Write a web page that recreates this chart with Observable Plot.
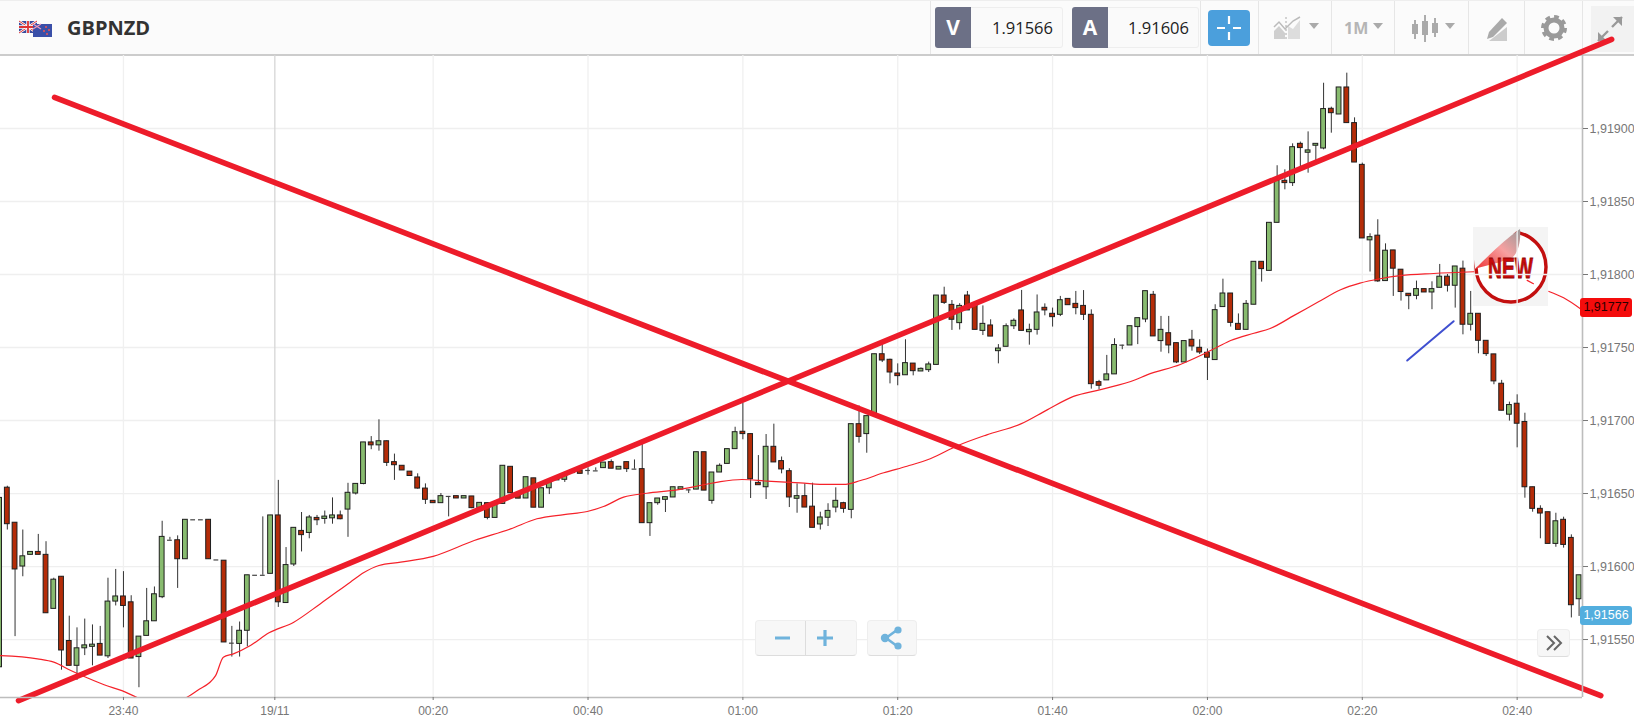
<!DOCTYPE html>
<html>
<head>
<meta charset="utf-8">
<script src="https://cdn.jsdelivr.net/npm/d3@7"></script>
<script src="https://cdn.jsdelivr.net/npm/@observablehq/plot@0.6"></script>
<style>
html,body{margin:0;padding:0;background:#fff;width:1634px;height:728px;overflow:hidden;font-family:"Liberation Sans",Arial,sans-serif}
.a{position:absolute;box-sizing:border-box}
#bar{left:0;top:0;width:1634px;height:56px;background:#fbfbfb;border-top:1px solid #eee;border-bottom:2px solid #ccc;z-index:1}
.sep{top:1px;width:1px;height:53px;background:#e6e6e6;z-index:1}
.sym{left:67px;top:14px;font:700 20px "Open Sans",sans-serif;color:#333;z-index:1}
.k{top:7px;height:41px;width:36px;background:#6c7086;color:#fff;font:700 21px/41px "Open Sans",sans-serif;text-align:center;border-radius:3px 0 0 3px;z-index:1}
.v{top:7px;height:41px;background:#fafafa;border:1px solid #eee;border-left:0;border-radius:0 3px 3px 0;font:400 16.5px/39px "Open Sans",sans-serif;color:#222;text-align:right;padding-right:9px;z-index:1}
.ic{z-index:1;overflow:visible}
.tag{left:1580px;width:52px;height:19px;border-radius:3px;color:#222;font:12.5px/19px "Liberation Sans",sans-serif;text-align:center;z-index:4}
.btn{background:#f7f7f7;border:1px solid #eee;border-bottom:1px solid #ddd;border-radius:4px;z-index:3}
</style>
</head>
<body>
<div id="bar" class="a"></div>
<div class="a sep" style="left:930px"></div><div class="a sep" style="left:1200px"></div>
<div class="a sep" style="left:1258px"></div><div class="a sep" style="left:1331px"></div>
<div class="a sep" style="left:1394px"></div><div class="a sep" style="left:1468px"></div>
<div class="a sep" style="left:1524px"></div><div class="a sep" style="left:1582px"></div>
<div class="a" style="left:1591px;top:6px;width:43px;height:46px;background:#f2f2f2;z-index:1"></div>

<svg class="a ic" style="left:19px;top:20px" width="34" height="18" viewBox="0 0 34 18">
  <rect x="0" y="1" width="18" height="12" fill="#3b4a9c"/>
  <path d="M0 1L18 13M18 1L0 13" stroke="#fff" stroke-width="2.4"/>
  <path d="M0 1L18 13M18 1L0 13" stroke="#d33" stroke-width="1"/>
  <path d="M9 1V13M0 7H18" stroke="#fff" stroke-width="3.4"/>
  <path d="M9 1V13M0 7H18" stroke="#d33" stroke-width="1.8"/>
  <rect x="14" y="4" width="19" height="13" fill="#3a4fa8"/>
  <path d="M14 4L22 9M22 4L14 9" stroke="#e9b" stroke-width="1.2"/>
  <circle cx="27" cy="7" r="1" fill="#e55"/><circle cx="30" cy="10" r="1" fill="#e55"/><circle cx="25" cy="11" r="1" fill="#e55"/><circle cx="28" cy="14" r="1" fill="#e55"/>
</svg>
<div class="a sym">GBPNZD</div>
<div class="a k" style="left:935px">V</div><div class="a v" style="left:971px;width:92px">1.91566</div>
<div class="a k" style="left:1072px">A</div><div class="a v" style="left:1108px;width:91px">1.91606</div>
<div class="a" style="left:1208px;top:10px;width:42px;height:36px;background:#4b9fdc;border-radius:4px;z-index:1"></div>
<svg class="a ic" style="left:1208px;top:10px" width="42" height="36"><path d="M21 6V14M21 22V30M9 18H17M25 18H33" stroke="#fff" stroke-width="2.2"/></svg>
<svg class="a ic" style="left:1274px;top:17px" width="46" height="24" fill="#cfcfcf">
  <path d="M0 22V14L5 9L11 16V22Z"/><path d="M14 22V9L19 12L26 3V22Z" fill="#ddd"/><path d="M0 10L5 5L11 12L19 4L26 0" fill="none" stroke="#bbb" stroke-width="1.5"/><path d="M12 0V24" stroke="#aaa" stroke-dasharray="2 2"/>
  <path d="M35 6H45L40 12Z" fill="#aaa"/>
</svg>
<div class="a" style="left:1344px;top:17px;font:700 16px 'Open Sans',sans-serif;color:#b5b5b5;z-index:1">1M</div>
<svg class="a ic" style="left:1373px;top:23px" width="10" height="8"><path d="M0 0H10L5 6Z" fill="#aaa"/></svg>
<svg class="a ic" style="left:1411px;top:15px" width="46" height="28">
  <path d="M4 5V24M14 0V27M24 3V22" stroke="#999" stroke-width="1.6"/>
  <rect x="1" y="9" width="6" height="10" fill="#aaa"/><rect x="11" y="6" width="6" height="14" fill="#aaa"/><rect x="21" y="8" width="6" height="10" fill="#aaa"/>
  <path d="M34 8H44L39 14Z" fill="#aaa"/>
</svg>
<svg class="a ic" style="left:1485px;top:18px" width="24" height="24">
  <path d="M17 0L22 5L8 19L2 21L4 14Z" fill="#aaa"/><path d="M4 23L22 9V23Z" fill="#ccc"/>
</svg>
<svg class="a ic" style="left:1541px;top:15px" width="26" height="26">
  <circle cx="13" cy="13" r="8" fill="none" stroke="#9a9a9a" stroke-width="5"/>
  <circle cx="13" cy="13" r="11" fill="none" stroke="#9a9a9a" stroke-width="4" stroke-dasharray="4.6 4"/>
</svg>
<svg class="a ic" style="left:1597px;top:16px" width="26" height="26">
  <path d="M15 11L25 1M1 25L11 15" stroke="#999" stroke-width="2.4"/>
  <path d="M16 1H25V10Z M1 16V25H10Z" fill="#999"/>
</svg>

<svg class="a" style="left:1473px;top:227px;z-index:1;overflow:visible" width="75" height="79">
  <defs><linearGradient id="peel" x1="0" y1="1" x2="1" y2="0"><stop offset="0" stop-color="#e33"/><stop offset=".55" stop-color="#f7a0a0"/><stop offset="1" stop-color="#999"/></linearGradient></defs>
  <rect width="75" height="79" fill="#f4f4f4"/>
  <circle cx="38" cy="40" r="35" fill="#fff" stroke="#c30f0f" stroke-width="3.4"/>
  <path d="M0 0H48L2 42Z" fill="#f4f4f4"/>
  <path d="M2 42C14 30 30 14 47 2C48 12 46 24 40 30C28 36 14 38 2 42Z" fill="url(#peel)"/>
  <text x="15" y="51" font-family="'Liberation Sans Narrow','Liberation Sans'" font-weight="700" font-size="30" fill="#c90a0a" stroke="#8f0606" stroke-width=".8" textLength="45" lengthAdjust="spacingAndGlyphs">NEW</text>
</svg>

<div id="chart" class="a" style="left:0;top:0;z-index:2"></div>

<div class="a btn" style="left:755px;top:620px;width:102px;height:36px"></div>
<div class="a" style="left:805px;top:621px;width:1px;height:34px;background:#ddd;z-index:3"></div>
<svg class="a" style="left:755px;top:620px;z-index:3" width="102" height="36"><path d="M20 18H35M62 18H78M70 10V26" stroke="#6fb3dc" stroke-width="3.2"/></svg>
<div class="a btn" style="left:867px;top:620px;width:50px;height:36px"></div>
<svg class="a" style="left:867px;top:620px;z-index:3" width="50" height="36"><path d="M30 10L19 18L30 26" fill="none" stroke="#6fb3dc" stroke-width="2.6"/><circle cx="18" cy="18" r="4.2" fill="#6fb3dc"/><circle cx="31" cy="10" r="3.6" fill="#6fb3dc"/><circle cx="31" cy="26" r="3.6" fill="#6fb3dc"/></svg>
<div class="a btn" style="left:1537px;top:629px;width:33px;height:28px"></div>
<svg class="a" style="left:1537px;top:629px;z-index:3" width="33" height="28"><path d="M10 7L17 14L10 21M17 7L24 14L17 21" fill="none" stroke="#666" stroke-width="2"/></svg>

<script>
// Prices are stored in points above 1.90000 (1650 = 1.91650). The first candle is at minute -36, minute 0 = 19/11 00:00.
const firstMinute = -36;
const opens = [
1531,1654,1630,1600,1608,1610,1608,1571,1593,1549,
1532,1544,1545,1547,1538.5,1576,1579.5,1575.5,1538,1552.5,
1562.5,1579,1618,1618,1605,1632,1632,1632,1604.5,1604,
1547.5,1547,1556,1594,1594,1595,1635,1575,1601.4,1624.4,
1623,1633.3,1632.6,1633,1635,1639,1650,1656.5,1685,1683,
1685.8,1671.5,1669,1665,1661,1653.4,1645,1643.4,1648,1648.2,
1646.6,1648,1640.2,1643.4,1633.3,1642.9,1668.3,1650,1646.6,1660.4,
1640.3,1653.6,1659,1659.4,1664,1665.8,1665.8,1665.5,1667.4,1671.5,
1666.4,1671.5,1666.7,1666.7,1629.7,1643.4,1645.7,1647.3,1652.7,1652.5,
1652.7,1678.3,1645,1664.4,1670.3,1680.4,1692.3,1690.7,1657.3,1654.3,
1682,1672.2,1665.3,1646.4,1648.2,1641,1628.8,1633.4,1640.4,1643.4,
1638.8,1697.5,1690.7,1704.6,1745.4,1741.6,1732.2,1731,1739,1733.6,
1734.5,1738.1,1785.6,1779.2,1766.7,1785.6,1778.8,1761.4,1765.1,1747.5,
1750.5,1764.6,1775.4,1760.5,1762.1,1777.2,1773.1,1772.4,1783.3,1779.9,
1778.5,1772.4,1726.3,1727.5,1731.6,1751.6,1751.4,1764,1769.2,1786.1,
1754.4,1759.8,1753,1739.8,1755.3,1749.8,1746.4,1741.4,1777.7,1787,
1766.2,1762.1,1779.3,1808.7,1802.5,1835.4,1864.2,1862.6,1889.5,1883.4,
1888.2,1886.3,1913.5,1909.6,1928.1,1903.7,1875.1,1823.4,1826.6,1795.5,
1816.5,1803.3,1786.8,1785.4,1790,1787.7,1790.9,1798.5,1792.3,1804,
1765.6,1773.1,1754.6,1745.3,1725.2,1704,1711.5,1699,1654.3,1639.5,
1637.2,1615.5,1632,1619.6,1577.6];
const closes = [
1647,1629,1598,1607,1610,1608,1568,1591,1542.5,1532,
1544,1546,1546.5,1539,1576,1579.5,1573,1537,1552,1562.5,
1581,1620.3,1618,1605,1632,1632,1632,1605,1604.5,1548,
1547.5,1556,1594,1594,1594,1635,1575.5,1601,1626.5,1621.5,
1633.6,1631.7,1634.2,1635,1632.4,1650.5,1656.6,1685,1683,1685.8,
1671,1669.4,1665.8,1662,1653.4,1645.7,1643.4,1648.2,1648,1646.6,
1648.2,1640,1643.6,1633.3,1642.9,1669,1650.2,1646.5,1661.2,1640.3,
1653.6,1657.8,1660.7,1662.3,1666,1663.5,1665.8,1665.5,1671.2,1667,
1668.3,1666.7,1666.7,1629.7,1643.4,1646.6,1647.5,1654.3,1654.3,1652.5,
1678.3,1652,1664.4,1669,1680.4,1692,1690.7,1659.8,1655.7,1682,
1671.3,1666.5,1647.3,1648.2,1640.4,1626.5,1633.6,1638.1,1645,1639.5,
1697.5,1688.8,1703,1745.4,1741.1,1732.9,1730.4,1739.3,1733.8,1735.4,
1738.4,1785.6,1780.6,1769,1778.5,1775.4,1762.1,1766.2,1757.5,1749.3,
1764.6,1768.3,1761.4,1762.1,1774,1775.4,1770.8,1782.4,1779,1777,
1772.4,1724.9,1723.8,1731.6,1751.7,1751.6,1764.6,1770.1,1788.6,1757.6,
1762.1,1751.4,1739.8,1754.4,1750.7,1746.6,1743,1775.6,1787,1766.9,
1762.1,1779.9,1808.7,1803.7,1835.4,1864.2,1862.6,1887.2,1886.6,1885,
1889.5,1913.3,1910.5,1928.1,1903.7,1876.7,1824.7,1825.6,1795.3,1816.3,
1804,1788,1785.2,1790,1787.7,1790,1798.5,1792.3,1805.5,1765.6,
1773.1,1754.6,1745.5,1726.8,1706.7,1710.6,1697.8,1654.3,1639.5,1636.3,
1615.5,1631,1614.8,1573.5,1594];
const highs = [
1647,1655,1630,1625,1610,1622,1617,1592,1593,1566,
1558,1564,1560,1559,1592,1598,1596.5,1580,1552,1585,
1586,1631,1620,1621,1632,1632,1632,1632,1604.5,1604,
1559,1562,1594,1594,1634,1635,1659,1613,1626.5,1637,
1635,1635,1638,1647,1638,1657,1656.6,1685,1689,1700.5,
1686,1677,1669,1665,1663.5,1656.6,1645,1650,1648,1648.2,
1648.2,1648,1643.6,1643.4,1642.9,1669,1668.3,1650,1661.2,1660.4,
1653.6,1657.8,1660.7,1662.3,1666,1665.8,1667.6,1667.6,1671.2,1673,
1668.3,1671.5,1673,1684,1643.4,1646.6,1647.5,1654.3,1654.3,1652.5,
1678.3,1678.3,1664.4,1670.3,1680.4,1695.4,1711.9,1690.7,1676,1690.4,
1697.5,1675,1667,1656.6,1656.6,1657.1,1637.2,1643,1653.9,1644,
1697.5,1710,1703,1745.4,1752.5,1742,1738.8,1755.3,1739,1736,
1740,1785.6,1791.3,1782.2,1780,1788.4,1778.8,1778.5,1769,1752,
1766.2,1769.6,1789.1,1766,1786,1779.9,1777,1785,1783.3,1788.4,
1789,1775.8,1727.5,1744.6,1756,1751.6,1764.6,1770.1,1788.6,1788.4,
1771.3,1771.3,1753,1754.4,1761.7,1755.3,1749,1779.3,1796.8,1787,
1773,1782.2,1808.7,1808.7,1835.4,1874.5,1871.7,1889.5,1890.7,1897.7,
1889.5,1931,1914.6,1928.1,1937.9,1907.3,1876.3,1827.9,1837.5,1821,
1816.5,1803.3,1786.8,1795.5,1790,1795,1806.9,1800,1805.5,1809.2,
1788.4,1773.1,1754.6,1745.3,1727.5,1712.6,1717.6,1705,1654.3,1641.6,
1637.2,1636.5,1633.8,1621.7,1594];
const lows = [
1531,1625,1552,1593,1608,1608,1568,1571,1529,1532,
1522,1539,1532,1539,1537,1573,1558,1537,1517,1552.5,
1562.5,1578,1618,1585,1605,1632,1632,1605,1604.5,1548,
1538,1538,1545,1594,1594,1595,1572,1575,1600,1610,
1619,1628,1629,1629,1632,1620,1649,1656,1680,1679,
1668.5,1659,1665.8,1662,1653,1642.5,1643.4,1643.4,1634,1646.6,
1646.6,1639.6,1640.2,1632,1633.3,1642.9,1650.2,1646.5,1646.6,1640.3,
1640.3,1649.3,1659,1657.6,1664,1663.5,1662.6,1665.5,1667.4,1667,
1666.4,1664.4,1666.7,1629.7,1620.6,1642,1637,1647.3,1652.7,1650,
1652.7,1652,1642.7,1664.4,1670.3,1680.4,1686.8,1646.6,1655.7,1645.9,
1671.3,1663.5,1640.4,1636.5,1640.4,1626.5,1625,1627.4,1636.8,1636.5,
1632.7,1684.5,1677.6,1704.6,1739.7,1725.1,1723.8,1731,1730.6,1733.6,
1732.9,1738.1,1779.5,1761.7,1762,1775.4,1762.1,1758.2,1757.5,1738.8,
1750.5,1762.3,1761.4,1751.6,1758.5,1771.7,1764,1771.2,1779,1772.4,
1768.5,1721.5,1721,1727.5,1731.6,1748.5,1751.4,1752,1767,1757.6,
1746.8,1745.7,1739,1739.8,1747.5,1745.2,1727.4,1741.4,1777.7,1764,
1762.1,1762.1,1779.3,1794.8,1802.5,1835.4,1858,1860.3,1873.5,1869.4,
1878,1885.4,1896.8,1909.6,1903.7,1876.7,1824.7,1801.7,1794.6,1795.5,
1785,1781.8,1775.9,1782.7,1787.7,1775.9,1790.9,1788,1777,1758.7,
1761.3,1745.7,1743.9,1724.5,1706.7,1699.6,1681.3,1646.8,1637.2,1619,
1615.5,1613.2,1612.6,1564.8,1565.8];

// Moving average, read at irregular minutes; null = hidden behind the NEW sticker
const maMinutes = [-35.9,-31.1,-29,-26.8,-24.7,-22.5,-20.2,-17.8,-14.4,-11.8,-10.5,-8.1,-7.1,-5.8,-3.6,-1.2,2,5.4,9.3,11,13,15.8,20,25.3,30,33.4,36.9,39.9,42,44.6,47.6,51.5,54.5,57.1,59.9,63.1,67.4,70.9,73,75.2,78.2,81.2,84.2,87.7,91.5,95.9,99.3,102.7,106.2,110.7,112.2,116.5,119.1,121.3,123,126,128.1,131.2,134.4,137.2,139.7,142.3,144.9,149.2,154.4,155,161.3,162.1,163,164.1,166,168.3];
const maValues = [1539,1536.8,1534.5,1528.8,1523.8,1519,1515,1509.4,1506,1510.5,1515,1525.3,1537.9,1540.2,1545.9,1554.6,1561.9,1574.4,1589.3,1595.7,1600.7,1603,1607,1617.8,1625.8,1632.7,1635.6,1637.7,1641.1,1647.5,1650.2,1652.5,1655.5,1658.2,1659.6,1658.5,1657.3,1656.2,1656.2,1658.9,1664.2,1668.7,1673.8,1682.7,1690.2,1697.7,1707.3,1716.5,1721.2,1727.9,1731.3,1738.4,1744.5,1750.3,1754.8,1759.8,1763,1772,1781.5,1789.6,1794.1,1797.1,1799.2,1800.7,1801.9,null,1796,1793.7,null,1788.4,1784.1,1776.1];

// Hand-drawn overlays
const risingMinutes = [-33.55,172.2],  risingValues = [1508.2,1961];
const fallingMinutes = [-28.9,170.8],  fallingValues = [1921.3,1511.6];
const blueMinutes = [145.8,151.8],     blueValues = [1741.1,1768];

const priceTicks = [1550,1600,1650,1700,1750,1800,1850,1900];
const timeTicks = [-20,-0.45,20,40,60,80,100,120,140,160];
const timeLabels = ["23:40","19/11","00:20","00:40","01:00","01:20","01:40","02:00","02:20","02:40"];
const bidValue = 1566, lastValue = 1777;

const price = v => 1.9 + v / 1e5;
const fmt = p => p.toFixed(5).replace(".", ",");
const candles = opens.map((o, i) => ({m: firstMinute + i, o: price(o), c: price(closes[i]), h: price(highs[i]), l: price(lows[i])}));
const dojis = candles.filter(d => d.o === d.c);
const bodies = candles.filter(d => d.o !== d.c);
const series = (ms, vs) => ms.map((m, i) => ({m, v: vs[i] == null ? NaN : price(vs[i])}));
const up = d => d.c >= d.o ? "#88bb6f" : "#b42c08";
const halfBody = 0.31;
const xDom = [-35.88, 168.44], yDom = [price(1510.3), price(1950)];

const chart = Plot.plot({
  width: 1634, height: 728,
  marginLeft: 0, marginRight: 52, marginTop: 55, marginBottom: 31,
  style: {background: "transparent", fontFamily: "'Liberation Sans',Arial,sans-serif", overflow: "visible"},
  x: {type: "linear", domain: xDom, range: [0, 1582]},
  y: {type: "linear", domain: yDom},
  marks: [
    Plot.gridY(priceTicks.map(price), {stroke: "#efefef", strokeOpacity: 1, strokeWidth: 1.3}),
    Plot.gridX(timeTicks.filter(t => t !== -0.45), {stroke: "#f0f0f0", strokeOpacity: 1, strokeWidth: 1.3}),
    Plot.ruleX([-0.45], {y1: yDom[0], y2: yDom[1], stroke: "#d6d6d6", strokeWidth: 1.3}),
    Plot.ruleX(candles, {x: "m", y1: "l", y2: "h", stroke: "#333", strokeWidth: 1}),
    Plot.ruleY(dojis, {y: "o", x1: d => d.m - halfBody, x2: d => d.m + halfBody, stroke: "#444", strokeWidth: 1.2}),
    Plot.rect(bodies, {x1: d => d.m - halfBody, x2: d => d.m + halfBody, y1: "o", y2: "c", fill: up, stroke: "#1e1e1e", strokeWidth: 1}),
    Plot.line(series(maMinutes, maValues), {x: "m", y: "v", stroke: "#f5222a", strokeWidth: 1.2, clip: true, curve: "monotone-x"}),
    Plot.line(series(fallingMinutes, fallingValues), {x: "m", y: "v", stroke: "#ed1c2a", strokeWidth: 5.6, strokeLinecap: "round"}),
    Plot.line(series(risingMinutes, risingValues), {x: "m", y: "v", stroke: "#ed1c2a", strokeWidth: 5.6, strokeLinecap: "round"}),
    Plot.line(series(blueMinutes, blueValues), {x: "m", y: "v", stroke: "#3f4fd0", strokeWidth: 2}),
    Plot.ruleX([xDom[1]], {y1: yDom[0], y2: yDom[1], stroke: "#bdbdbd", strokeWidth: 1.6}),
    Plot.ruleY([yDom[0]], {x1: xDom[0], x2: xDom[1], stroke: "#bdbdbd", strokeWidth: 1.6}),
    Plot.axisY(priceTicks.map(price), {anchor: "right", tickSize: 5, tickPadding: 2, tickFormat: fmt, label: null, fontSize: 12.5, color: "#777"}),
    Plot.axisX(timeTicks, {anchor: "bottom", tickSize: 3, tickPadding: 6, tickFormat: t => timeLabels[timeTicks.indexOf(t)], label: null, fontSize: 12, color: "#777"})
  ]
});
document.getElementById("chart").append(chart);

const yScale = chart.scale("y");
function tag(value, bg, color) {
  const d = document.createElement("div");
  d.className = "a tag";
  d.textContent = fmt(price(value));
  d.style.top = (yScale.apply(price(value)) - 9.5) + "px";
  d.style.background = bg; d.style.color = color;
  document.body.append(d);
}
tag(lastValue, "#f40c0c", "#2a0000");
tag(bidValue, "#53aede", "#fff");
</script>
</body>
</html>
